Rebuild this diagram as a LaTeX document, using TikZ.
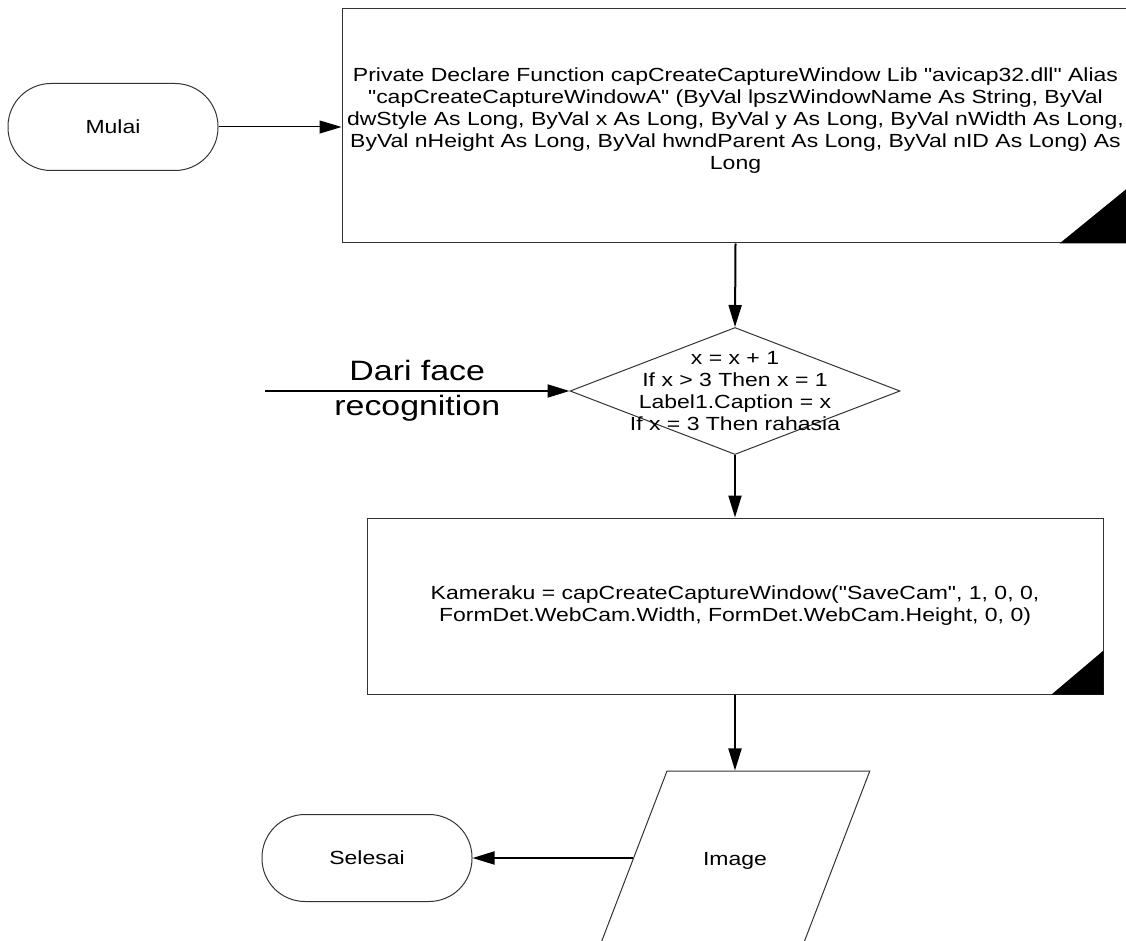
\documentclass[tikz,border=0pt]{standalone}
\usepackage{fontspec}
\setmainfont{Liberation Sans}[FakeStretch=1.21, Ligatures=TeXOff]
\usetikzlibrary{shapes.geometric, arrows.meta, positioning}

\begin{document}
\begin{tikzpicture}[x=1pt, y=-1pt,
  every node/.style={font=\fontsize{19}{22}\selectfont},
  terminal/.style={rectangle, draw=black!80, line width=1pt, rounded corners=43pt, minimum width=210pt, minimum height=87pt},
  process/.style={rectangle, draw=black!80, line width=1pt, align=center, inner sep=0pt},
  decision/.style={diamond, draw=black!80, line width=1pt, minimum width=330pt, minimum height=127pt, inner sep=0pt},
  io/.style={trapezium, trapezium left angle=69, trapezium right angle=111, draw=black!80, line width=1pt, inner sep=0pt, text width=136pt, align=center, text height=94pt, text depth=80pt},
  flow/.style={-{Triangle[length=22pt, width=13pt]}, line width=2pt},
  thinflow/.style={flow, line width=1pt}]
\useasboundingbox (0,0) rectangle (1126,941);

% Start
\node[terminal] (mulai) at (113,127) {Mulai};

% Declaration
\node[process, minimum width=787pt, minimum height=234pt] (decl) at (735.5,126) {Private Declare Function capCreateCaptureWindow Lib "avicap32.dll" Alias\\"capCreateCaptureWindowA" (ByVal lpszWindowName As String, ByVal\\dwStyle As Long, ByVal x As Long, ByVal y As Long, ByVal nWidth As Long,\\ByVal nHeight As Long, ByVal hwndParent As Long, ByVal nID As Long) As\\Long\\[-8pt]};
\fill ([xshift=-70pt]decl.south east) -- (decl.south east) -- ([yshift=57pt]decl.south east) -- cycle;

% Counter
\node[decision, label={[align=center]center:{x = x + 1\\If x > 3 Then x = 1\\Label1.Caption = x\\If x = 3 Then rahasia}}] (cond) at (735,391) {};
\coordinate (face) at (265,391);

% Capture window
\node[process, minimum width=736pt, minimum height=176pt] (kamera) at (735,606) {Kameraku = capCreateCaptureWindow("SaveCam", 1, 0, 0,\\FormDet.WebCam.Width, FormDet.WebCam.Height, 0, 0)};
\fill ([xshift=-52pt]kamera.south east) -- (kamera.south east) -- ([yshift=44pt]kamera.south east) -- cycle;

% Output and end
\node[io] (gambar) at (735,858) {Image};
\node[terminal] (selesai) at (367,858) {Selesai};

% Connections
\draw[thinflow] (mulai.east) -- (mulai.east -| decl.west);
\draw[flow] (decl.south) -- (cond.north);
\draw[flow] (face) -- node[font=\fontsize{28}{35}\selectfont, align=center] {Dari face\\recognition} (cond.west);
\draw[flow] (cond.south) -- (kamera.north);
\draw[flow] (kamera.south) -- (gambar.north);
\draw[flow] (gambar.left side) -- (selesai.east);
\end{tikzpicture}
\end{document}
